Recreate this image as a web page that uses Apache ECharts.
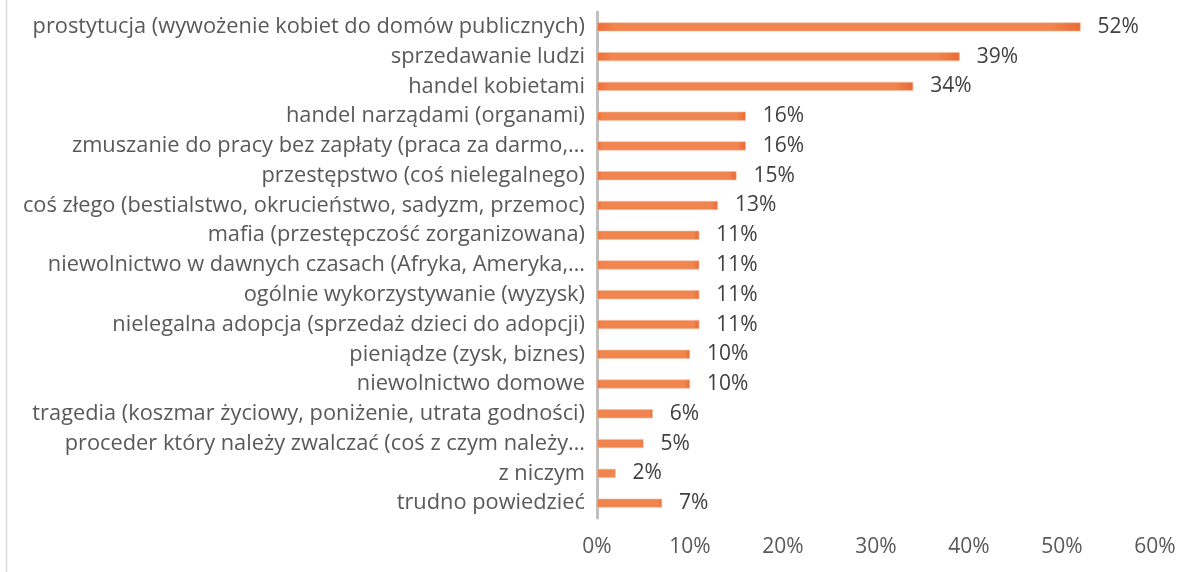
<!DOCTYPE html>
<html>
<head>
<meta charset="utf-8">
<script src="https://cdn.jsdelivr.net/npm/echarts@6/dist/echarts.min.js"></script>
<style>html,body{margin:0;padding:0;background:#fff}#c{width:1198px;height:572px}</style>
</head>
<body>
<div id="c"></div>
<script>
const categories = [
  "prostytucja (wywożenie kobiet do domów publicznych)",
  "sprzedawanie ludzi",
  "handel kobietami",
  "handel narządami (organami)",
  "zmuszanie do pracy bez zapłaty (praca za darmo,…",
  "przestępstwo (coś nielegalnego)",
  "coś złego (bestialstwo, okrucieństwo, sadyzm, przemoc)",
  "mafia (przestępczość zorganizowana)",
  "niewolnictwo w dawnych czasach (Afryka, Ameryka,…",
  "ogólnie wykorzystywanie (wyzysk)",
  "nielegalna adopcja (sprzedaż dzieci do adopcji)",
  "pieniądze (zysk, biznes)",
  "niewolnictwo domowe",
  "tragedia (koszmar życiowy, poniżenie, utrata godności)",
  "proceder który należy zwalczać (coś z czym należy…",
  "z niczym",
  "trudno powiedzieć"
];
const values = [52, 39, 34, 16, 16, 15, 13, 11, 11, 11, 11, 10, 10, 6, 5, 2, 7];
const xTicks = [0, 10, 20, 30, 40, 50, 60];

const FONT = "Open Sans";
const chart = echarts.init(document.getElementById('c'));
chart.setOption({
  animation: false,
  backgroundColor: '#fff',
  grid: { left: 597, right: 43, top: 12, bottom: 54, containLabel: false },
  graphic: [{
    type: 'line', shape: { x1: 6.5, y1: 0, x2: 6.5, y2: 572 },
    style: { stroke: '#D9D9D9', lineWidth: 1.5 }, silent: true
  }],
  xAxis: {
    type: 'value', min: xTicks[0], max: xTicks[xTicks.length - 1], interval: 10,
    axisLine: { show: false }, axisTick: { show: false }, splitLine: { show: false },
    axisLabel: { formatter: v => v + '%', color: '#595959', fontFamily: FONT, fontSize: 21, margin: 19 }
  },
  yAxis: {
    type: 'category', data: categories, inverse: true,
    axisLine: { show: true, lineStyle: { color: '#BFBFBF', width: 3 } },
    axisTick: { show: false },
    axisLabel: { color: '#595959', fontFamily: FONT, fontSize: 21.8, margin: 12 }
  },
  series: [{
    type: 'bar', data: values, barWidth: 9,
    itemStyle: {
      color: new echarts.graphic.LinearGradient(0, 0, 1, 0, [
        { offset: 0, color: '#EC6F3A' },
        { offset: 0.04, color: '#F0854F' },
        { offset: 0.94, color: '#F0854F' },
        { offset: 1, color: '#EA6A36' }
      ]),
      borderColor: '#F7BE9C', borderWidth: 0.6
    },
    label: {
      show: true, position: 'right', distance: 17, formatter: p => p.value + '%',
      color: '#404040', fontFamily: FONT, fontSize: 21
    }
  }]
});
</script>
</body>
</html>
